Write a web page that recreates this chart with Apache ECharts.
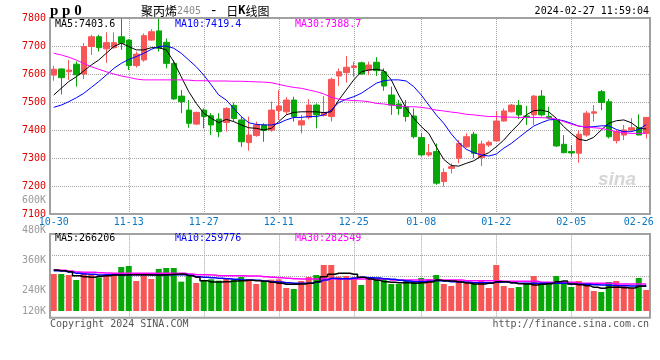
<!DOCTYPE html>
<html><head><meta charset="utf-8">
<script src="https://cdn.jsdelivr.net/npm/echarts@6/dist/echarts.min.js"></script>
<style>html,body{margin:0;padding:0;background:#fff}#c{width:660px;height:360px}</style>
</head><body><div id="c"></div>
<script>
const dates = ['10-30','10-31','11-01','11-02','11-03','11-06','11-07','11-08','11-09','11-10',
'11-13','11-14','11-15','11-16','11-17','11-20','11-21','11-22','11-23','11-24',
'11-27','11-28','11-29','11-30','12-01','12-04','12-05','12-06','12-07','12-08',
'12-11','12-12','12-13','12-14','12-15','12-18','12-19','12-20','12-21','12-22',
'12-25','12-26','12-27','12-28','12-29','01-02','01-03','01-04','01-05',
'01-08','01-09','01-10','01-11','01-12','01-15','01-16','01-17','01-18','01-19',
'01-22','01-23','01-24','01-25','01-26','01-29','01-30','01-31','02-01','02-02',
'02-05','02-06','02-07','02-08','02-19','02-20','02-21','02-22','02-23','02-26','02-27'];
const xTickLabels = ['10-30','11-13','11-27','12-11','12-25','01-08','01-22','02-05','02-26'];
const xGridDates = ['11-13','11-27','12-11','12-25','01-08','01-22','02-05'];
const priceTicks = [7100,7200,7300,7400,7500,7600,7700,7800];

const open = [7596,7618,7608,7635,7600,7698,7733,7690,7694,7733,7721,7630,7650,7721,7754,7713,7638,7521,7471,7421,
7471,7451,7439,7427,7488,7436,7355,7380,7418,7400,7469,7465,7507,7418,7445,7489,7452,7448,7593,7605,
7623,7640,7614,7642,7608,7525,7493,7483,7450,7373,7311,7323,7216,7263,7299,7340,7385,7302,7346,7361,
7432,7465,7488,7450,7454,7521,7448,7438,7349,7323,7317,7382,7460,7537,7501,7362,7382,7400,7408,7388];
const close = [7617,7587,7614,7597,7698,7733,7694,7712,7712,7710,7630,7671,7737,7751,7692,7638,7511,7501,7424,7463,
7448,7418,7394,7477,7441,7358,7382,7418,7398,7471,7486,7507,7448,7433,7489,7454,7462,7581,7608,7624,
7629,7600,7632,7612,7557,7489,7477,7448,7376,7311,7319,7210,7248,7269,7352,7376,7317,7350,7356,7432,
7468,7489,7454,7446,7521,7454,7443,7343,7319,7318,7385,7460,7465,7498,7376,7394,7400,7408,7382,7445];
const low = [7576,7527,7579,7555,7582,7668,7680,7640,7690,7686,7614,7623,7644,7719,7680,7620,7507,7460,7408,7418,
7406,7382,7374,7394,7430,7340,7326,7376,7358,7394,7436,7454,7430,7388,7438,7406,7448,7430,7557,7569,
7590,7598,7596,7593,7540,7454,7454,7430,7370,7305,7305,7204,7198,7245,7281,7335,7299,7271,7340,7358,
7430,7463,7439,7418,7418,7448,7440,7340,7317,7305,7283,7376,7430,7471,7370,7352,7364,7394,7382,7370];
const high = [7629,7620,7650,7645,7710,7740,7740,7749,7749,7798,7724,7680,7745,7760,7798,7727,7650,7543,7507,7465,
7477,7460,7460,7481,7498,7448,7448,7430,7424,7501,7543,7517,7519,7454,7510,7495,7521,7587,7620,7664,
7644,7644,7644,7660,7620,7555,7507,7507,7477,7390,7350,7352,7263,7281,7364,7388,7394,7362,7362,7468,
7477,7493,7507,7486,7525,7543,7483,7440,7382,7346,7400,7468,7489,7543,7511,7400,7418,7442,7456,7445];

const ma5 = [7525,7549,7573,7590,7611,7632,7650,7674,7698,7710,7698,7686,7686,7694,7694,7686,7644,7590,7537,7495,
7460,7442,7426,7438,7430,7418,7408,7406,7400,7406,7430,7454,7463,7465,7465,7465,7462,7465,7507,7543,
7579,7608,7614,7617,7612,7579,7525,7477,7442,7412,7388,7340,7295,7273,7271,7281,7290,7307,7319,7340,
7364,7394,7421,7454,7469,7471,7465,7442,7412,7388,7367,7362,7374,7400,7424,7433,7436,7426,7406,7403.6];
const ma10 = [7481,7489,7501,7515,7531,7552,7573,7596,7620,7638,7652,7662,7674,7688,7698,7700,7692,7674,7650,7626,
7596,7561,7525,7507,7477,7448,7426,7420,7418,7418,7424,7436,7445,7445,7448,7448,7454,7471,7498,7510,
7519,7531,7549,7567,7576,7579,7579,7575,7555,7525,7489,7454,7424,7386,7355,7331,7319,7311,7307,7314,
7335,7352,7373,7394,7414,7426,7436,7438,7433,7424,7414,7410,7412,7415,7415,7402,7394,7394,7402,7419.4];
const ma30 = [7674,7668,7660,7650,7638,7626,7617,7608,7600,7593,7588,7582,7579,7579,7579,7579,7579,7579,7578,7576,
7576,7575,7575,7575,7574,7574,7573,7572,7571,7569,7563,7557,7552,7549,7543,7537,7529,7517,7510,7507,
7505,7504,7501,7495,7493,7489,7486,7483,7483,7481,7477,7471,7468,7464,7461,7456,7454,7451,7448,7448,
7446,7446,7445,7445,7445,7444,7443,7439,7430,7421,7414,7411,7408,7406,7400,7394,7390,7388,7388,7388.7];

const volume = [388500,388500,378000,325500,395500,388500,353500,371000,378000,462000,
472500,315000,378000,336000,441000,451500,451500,308000,371000,294000,
318500,332500,318500,336000,332500,357000,332500,283500,308000,329000,
332500,241500,231000,315000,357000,378000,483000,483000,360500,367500,
353500,273000,350000,350000,336000,283500,283500,325500,304500,346500,
336000,378000,283500,262500,325500,308000,283500,325500,241500,483000,
262500,241500,252000,283500,367500,283500,304500,367500,283500,252000,
315000,283500,210000,199500,304500,315000,262500,241500,346500,220500];
const volMa5 = [430500,423500,413000,371000,360500,353500,364000,371000,378000,378000,
381500,381500,381500,378000,378000,381500,385000,388500,371000,353500,
318500,304500,304500,308000,315000,318500,322000,318500,311500,301000,
290500,280000,280000,283500,290500,308000,360500,385000,395500,395500,
385000,353500,336000,322000,308000,301000,297500,297500,290500,297500,
304500,325500,318500,315000,304500,294000,283500,283500,290500,308000,
308000,297500,287000,283500,273000,280000,287000,308000,315000,283500,
276500,266000,248500,238000,248500,248500,245000,241500,259000,266206];
const volMa10 = [423500,420000,409500,395500,388500,385000,378000,381500,381500,381500,
381500,381500,381500,381500,381500,381500,381500,381500,374500,360500,
353500,350000,343000,339500,332500,325500,325500,322000,315000,308000,
304500,297500,290500,290500,290500,304500,325500,343000,339500,339500,
346500,353500,350000,346500,339500,332500,322000,315000,308000,308000,
311500,318500,315000,308000,304500,301000,297500,297500,297500,301000,
304500,297500,290500,290500,290500,290500,290500,290500,290500,280000,
280000,280000,276500,273000,269500,266000,266000,262500,262500,259776];
const volMa30 = [430500,427000,420000,409500,406000,406000,402500,399000,395500,395500,
395500,395500,395500,395500,395500,395500,395500,395500,388500,381500,
381500,378000,371000,371000,371000,371000,367500,367500,360500,353500,
350000,343000,339500,336000,336000,336000,336000,336000,336000,336000,
336000,336000,336000,336000,336000,325500,325500,325500,325500,325500,
325500,325500,325500,325500,325500,318500,318500,318500,318500,318500,
311500,311500,311500,311500,311500,301000,301000,301000,301000,301000,
290500,290500,290500,290500,290500,283500,283500,283500,283500,282549];

const RED = '#f85656', GREEN = '#07a707';
const MONO = '"DejaVu Sans Mono", monospace';
const GRIDC = '#a4a4a4', FRAMEC = '#a0a0a0';

const chart = echarts.init(document.getElementById('c'), null, {renderer: 'canvas'});
const candleData = dates.map((d, i) => [open[i], close[i], low[i], high[i]]);
const volData = dates.map((d, i) => ({value: volume[i], itemStyle: {color: close[i] >= open[i] ? RED : GREEN}}));
const dotted = () => ({color: GRIDC, type: 'dotted', width: 1});
const hiddenX = (gi) => ({gridIndex: gi, type: 'category', data: dates, show: false});
const labelX = (gi, showLabel) => ({
  gridIndex: gi, type: 'category', data: dates, boundaryGap: true,
  axisLine: {show: false}, axisTick: {show: false},
  axisLabel: showLabel ? {interval: (i, v) => xTickLabels.includes(v), color: '#0a78c6', fontFamily: MONO, fontSize: 10, margin: 3} : {show: false},
  splitLine: {show: false}
});
const vGrid = (lo, hi) => ({
  silent: true, symbol: 'none', z: 1, animation: false,
  label: {show: false}, lineStyle: dotted(),
  data: xGridDates.map(d => [{coord: [d, lo]}, {coord: [d, hi]}])
});

const txt = (x, y, text, fill, align, font) => ({type: 'text', x: x, y: y, silent: true,
  style: {text: text, fill: fill, align: align || 'left', verticalAlign: 'middle', font: font || ('10px ' + MONO)}});

chart.setOption({
  animation: false,
  backgroundColor: '#fff',
  grid: [
    {left: 50, top: 18, width: 600, height: 196, show: true, borderColor: FRAMEC, borderWidth: 2},
    {left: 50, top: 234, width: 600, height: 77},
    {left: 50, top: 234, width: 600, height: 83.7, show: true, borderColor: FRAMEC, borderWidth: 2},
    {left: 50, top: 200.7, width: 600, height: 90},
    {left: 50, top: 290.7, width: 600, height: 21}
  ],
  xAxis: [labelX(0, true), hiddenX(1), labelX(2, false), hiddenX(3), hiddenX(4)],
  yAxis: [
    {gridIndex: 0, type: 'value', min: priceTicks[0], max: priceTicks[priceTicks.length - 1], interval: 100,
      axisLine: {show: false}, axisTick: {show: false},
      axisLabel: {color: '#e00000', fontFamily: MONO, fontSize: 10, margin: 4, padding: [0, 0, 4, 0], formatter: v => String(v)},
      splitLine: {show: true, lineStyle: dotted()}},
    {gridIndex: 1, type: 'value', min: 0, max: 808500, show: false},
    {gridIndex: 2, type: 'value', min: 0, max: 4, interval: 1,
      axisLine: {show: false}, axisTick: {show: false}, axisLabel: {show: false},
      splitLine: {show: true, lineStyle: dotted()}},
    {gridIndex: 3, type: 'value', min: 240000, max: 600000, interval: 120000,
      axisLine: {show: false}, axisTick: {show: false}, splitLine: {show: false},
      axisLabel: {color: '#9a9a9a', fontFamily: MONO, fontSize: 10, margin: 4, formatter: v => (v / 1000) + 'K'}},
    {gridIndex: 4, type: 'value', min: 120000, max: 240000, interval: 120000,
      axisLine: {show: false}, axisTick: {show: false}, splitLine: {show: false},
      axisLabel: {color: '#9a9a9a', fontFamily: MONO, fontSize: 10, margin: 4, showMaxLabel: false, formatter: v => (v / 1000) + 'K'}}
  ],
  series: [
    {type: 'candlestick', xAxisIndex: 0, yAxisIndex: 0, data: candleData, barWidth: 6, z: 2,
      itemStyle: {color: RED, color0: GREEN, borderColor: RED, borderColor0: GREEN, borderWidth: 1},
      markLine: vGrid(priceTicks[0], priceTicks[priceTicks.length - 1])},
    {type: 'line', xAxisIndex: 0, yAxisIndex: 0, data: ma5, symbol: 'none', lineStyle: {color: '#000', width: 1}, z: 3},
    {type: 'line', xAxisIndex: 0, yAxisIndex: 0, data: ma10, symbol: 'none', lineStyle: {color: '#0000ff', width: 1}, z: 3},
    {type: 'line', xAxisIndex: 0, yAxisIndex: 0, data: ma30, symbol: 'none', lineStyle: {color: '#ff00ff', width: 1}, z: 3},
    {type: 'line', xAxisIndex: 2, yAxisIndex: 2, data: [], symbol: 'none', z: 1, markLine: vGrid(0, 4)},
    {type: 'bar', xAxisIndex: 1, yAxisIndex: 1, data: volData, barWidth: 6},
    {type: 'line', xAxisIndex: 1, yAxisIndex: 1, data: volMa30, step: 'middle', symbol: 'none', lineStyle: {color: '#ff00ff', width: 1.5}, z: 3},
    {type: 'line', xAxisIndex: 1, yAxisIndex: 1, data: volMa10, step: 'middle', symbol: 'none', lineStyle: {color: '#0000ff', width: 1.5}, z: 3},
    {type: 'line', xAxisIndex: 1, yAxisIndex: 1, data: volMa5, step: 'middle', symbol: 'none', lineStyle: {color: '#000', width: 1.5}, z: 3}
  ],
  graphic: [
    txt(50, 11, 'p p 0', '#000', 'left', 'bold 15px "Liberation Serif", serif'),
    {type: 'text', x: 141, y: 11, silent: true, style: {
      text: '{a|聚丙烯}{b|2405}{c| - }{a|日}{k|K}{a|线图}', verticalAlign: 'middle', align: 'left',
      rich: {
        a: {font: '12px "Noto Sans CJK SC"', fill: '#000'},
        b: {font: '10px ' + MONO, fill: '#8a8a8a'},
        c: {font: '14px ' + MONO, fill: '#000'},
        k: {font: 'bold 12px ' + MONO, fill: '#000'}
      }}},
    txt(649, 11, '2024-02-27 11:59:04', '#000', 'right'),
    txt(55, 24, 'MA5:7403.6', '#000'),
    txt(175, 24, 'MA10:7419.4', '#0000ff'),
    txt(295, 24, 'MA30:7388.7', '#ff00ff'),
    txt(55, 238.5, 'MA5:266206', '#000'),
    txt(175, 238.5, 'MA10:259776', '#0000ff'),
    txt(295, 238.5, 'MA30:282549', '#ff00ff'),
    txt(50, 324, 'Copyright 2024 SINA.COM', '#555'),
    txt(649, 324, 'http://finance.sina.com.cn', '#555', 'right'),
    txt(598, 180, 'sina', '#d6d6d6', 'left', 'italic bold 19px "Liberation Sans", sans-serif')
  ]
});
</script></body></html>
